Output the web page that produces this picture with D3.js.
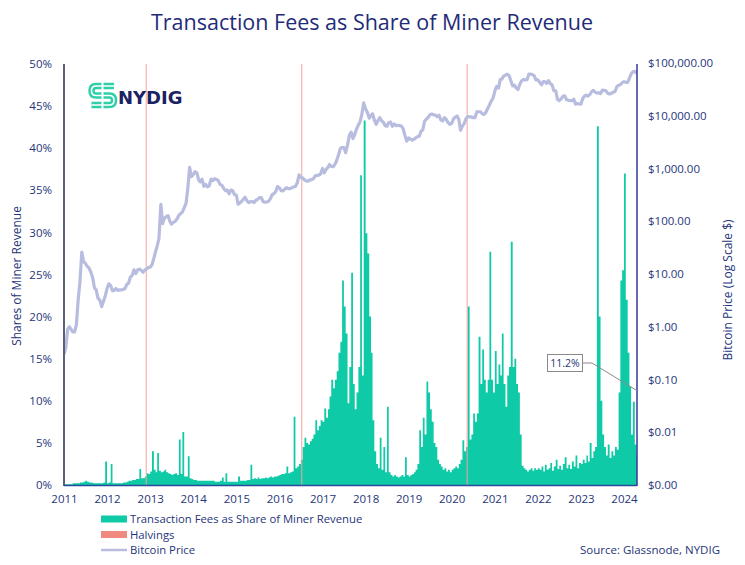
<!DOCTYPE html>
<html>
<head>
<meta charset="utf-8">
<script src="https://cdn.jsdelivr.net/npm/d3@7"></script>
<style>
  body { margin: 0; background: #fff; }
  svg { font-family: "Open Sans", sans-serif; }
</style>
</head>
<body>
<svg id="chart" width="745" height="565"></svg>
<script>
// Fee share of miner revenue (%), two readings per month (1st and 16th), Jan 2011 - Apr 2024
let feeShare = [
  0.1,0.1,0.1,0.1,0.1,0.2,0.2,0.2,0.2,0.3,0.3,0.4,0.5,0.4,0.3,0.3,0.2,0.2,0.2,0.2,0.2,0.2,0.3,2.8,   // 2011
  0.2,0.3,2.5,0.2,0.2,0.2,0.2,0.2,0.2,0.3,0.3,0.4,0.5,0.5,0.6,0.6,0.7,0.7,1.9,0.8,0.8,1.0,1.4,1.3,   // 2012
  1.6,4.0,1.8,1.5,3.8,1.7,1.5,1.6,1.8,1.5,1.4,1.3,1.2,1.3,1.4,1.2,5.4,1.3,6.3,1.0,1.0,3.4,0.8,0.7,   // 2013
  0.6,0.6,0.5,0.5,0.5,0.5,0.5,0.5,0.5,0.5,0.5,0.5,0.4,0.4,0.4,0.5,0.9,0.4,1.4,0.4,0.4,0.4,0.4,0.4,   // 2014
  0.4,1.0,0.5,0.5,0.5,0.5,0.6,0.6,2.4,0.7,0.8,0.7,0.9,0.7,0.8,0.8,0.9,0.8,0.9,1.0,0.9,1.0,1.0,1.1,   // 2015
  1.2,1.3,1.3,1.4,2.2,1.4,1.5,1.6,8.1,2.0,2.2,2.5,3.0,4.5,5.6,5.0,4.8,5.2,5.5,6.0,7.7,6.5,7.0,7.7,   // 2016
  7.5,9.1,8.0,9.0,10.5,12.5,11.5,12.5,13.5,15.7,17,24.3,21.2,18,9.7,14,25.2,12,9,11,14,36.8,13,43.3, // 2017
  29.9,27.5,20,15.7,7.7,4,2.5,2,5.6,1.8,4.5,1.5,9.3,1.5,1.2,1.0,1.2,1.0,0.9,1.0,1.2,1.0,3.3,1.2,     // 2018
  1.0,1.2,1.3,1.5,1.8,2.5,6.5,4.5,8.0,6,12.3,11,9,7.5,5,4.5,3,2.5,2.2,1.8,2.0,1.6,1.8,1.5,           // 2019
  1.8,2.0,2.2,2.0,2.5,3,5.3,4,4.5,21.2,5.4,6,8.5,7.5,8.5,17.6,12,16.1,12.5,11,12.5,27.7,12.5,11,     // 2020
  15.9,12,14.3,13,18,12,9.3,13,14,28.9,14,15,12,11,6,2.3,2.0,1.8,1.6,1.8,2.0,1.7,2.0,1.8,           // 2021
  2.0,1.8,2.2,1.6,2.4,1.8,2.0,2.6,1.7,2.2,3.0,1.9,2.3,1.8,2.5,3.3,2.0,2.4,1.9,2.8,2.2,3.5,2.0,2.6,   // 2022
  2.5,3.0,2.6,3.5,2.8,5.0,3.2,4,4.5,42.6,20,10,6,4.5,3.5,4.8,3.2,4.0,3.5,4.5,4.2,11,24.3,25.5,       // 2023
  37,22,15.7,11.7,6,9.9,4.8,3.6                                                                     // 2024
];

// Bitcoin price ($), same dates
let btcPrice = [
  0.3,0.4,0.9,1.0,0.9,0.8,0.8,1.1,3.2,7,26,17,16,14,13,11,8.5,5.5,5,3.5,3.2,2.4,3.0,3.8,
  5.3,6.5,6.0,4.8,4.9,5.3,4.9,5.0,5.0,5.1,5.3,6.3,6.7,8.7,9.4,12,10.2,11.9,12.4,11.8,10.8,11.8,12.5,13.3,
  13.5,15,20,27,34,47,210,90,115,122,128,100,88,95,100,110,130,140,150,180,220,430,1050,700,
  770,870,820,600,560,630,460,500,450,470,630,590,640,620,590,500,480,420,380,390,330,390,380,320,
  315,210,225,240,260,285,245,225,235,237,225,250,260,280,280,235,230,232,238,265,320,335,365,455,
  430,380,375,405,435,415,417,430,450,455,535,760,675,665,610,580,575,610,615,640,730,740,750,790,
  1000,830,970,1050,1190,1100,1080,1200,1420,1800,2400,2500,2500,2000,2800,4200,4900,3700,4400,5600,6700,7800,10900,17500,
  13500,11500,9000,10200,10900,8300,6900,8100,9200,8100,7500,6500,6350,7400,7600,6300,7000,6500,6600,6500,6400,5600,4200,3300,
  3800,3600,3450,3600,3800,4000,4100,5100,5400,7900,8600,9300,10500,10800,10400,10300,9600,10200,8300,8000,9200,8500,7400,6900,
  7200,8700,9400,9900,8600,5300,6400,7100,8800,9700,9500,9500,9200,9200,11800,11900,11900,10900,10600,11500,13700,16000,19000,21300,
  29400,36000,33500,49000,49500,56500,59000,61500,57800,46500,36700,38000,33500,31500,39800,45900,48800,47700,48200,61500,61300,60100,57200,47600,
  47700,43100,38500,44500,44400,41000,46300,40500,38500,29800,29800,20400,19300,20800,23300,23900,20100,19700,19300,19300,20500,16600,17100,16700,
  16600,21200,23700,24600,23600,25000,28500,30300,28100,27000,27200,26300,30600,30300,29700,26600,25800,26600,28000,28500,35400,37900,38700,42300,
  44200,43100,43100,51900,62000,68400,69700,63400
];

let halvings = ['2012-11-28', '2016-07-09', '2020-05-11'];
let yearTicks = [2011,2012,2013,2014,2015,2016,2017,2018,2019,2020,2021,2022,2023,2024];
let shareTicks = [0,5,10,15,20,25,30,35,40,45,50];
let priceTicks = [0.001,0.01,0.1,1,10,100,1000,10000,100000];
let latestShare = 11.2;

let navy = '#26357a';
let teal = '#0fcaa6';
let lavender = '#b8bde0';
let salmon = '#f2a39c';

// reading i -> date (1st or 16th of the month)
function readingDate(i) {
    return new Date(2011 + Math.floor(i / 24), Math.floor((i % 24) / 2), i % 2 ? 16 : 1);
}

let fees = feeShare.map((v, i) => ({ date: readingDate(i), value: v }));
// repeat last reading so the final step has a width
fees.push({ date: readingDate(feeShare.length), value: feeShare[feeShare.length - 1] });
let prices = btcPrice.map((v, i) => ({ date: readingDate(i), value: v }));

let svg = d3.select('#chart');

let x = d3.scaleTime()
    .domain([new Date(2011, 0, 1), new Date(2024, 3, 20)])
    .range([64, 637]);
let y = d3.scaleLinear().domain([0, 50]).range([485, 64]);
let yPrice = d3.scaleLog().domain([0.001, 100000]).range([485, 63]);

svg.append('clipPath').attr('id', 'plot')
    .append('rect').attr('x', 64).attr('y', 55).attr('width', 573).attr('height', 431);

// Title
svg.append('text')
    .attr('x', 372).attr('y', 30)
    .attr('text-anchor', 'middle')
    .attr('font-size', 21.5)
    .attr('fill', '#1f2b78')
    .text('Transaction Fees as Share of Miner Revenue');

// Fee bars (stepped so neighbouring bars touch)
let feeArea = d3.area()
    .curve(d3.curveStepAfter)
    .x(d => x(d.date))
    .y0(y(0))
    .y1(d => y(d.value));

svg.append('path')
    .datum(fees)
    .attr('clip-path', 'url(#plot)')
    .attr('d', feeArea)
    .attr('fill', teal);

// Halvings
svg.append('g')
    .selectAll('line')
    .data(halvings)
    .join('line')
    .attr('x1', d => x(new Date(d))).attr('x2', d => x(new Date(d)))
    .attr('y1', 64).attr('y2', 485)
    .attr('stroke', salmon)
    .attr('stroke-width', 1);

// Price line
let priceLine = d3.line()
    .x(d => x(d.date))
    .y(d => yPrice(d.value));

svg.append('path')
    .datum(prices)
    .attr('clip-path', 'url(#plot)')
    .attr('d', priceLine)
    .attr('fill', 'none')
    .attr('stroke', lavender)
    .attr('stroke-width', 3.2)
    .attr('stroke-linejoin', 'round');

// Axes lines
svg.append('line').attr('x1', 64).attr('x2', 64).attr('y1', 64).attr('y2', 486)
    .attr('stroke', '#5b6178').attr('stroke-width', 2);
svg.append('line').attr('x1', 637).attr('x2', 637).attr('y1', 64).attr('y2', 486)
    .attr('stroke', '#34399a').attr('stroke-width', 1.5);
svg.append('line').attr('x1', 64).attr('x2', 637).attr('y1', 485.5).attr('y2', 485.5)
    .attr('stroke', '#2a4a9a').attr('stroke-width', 1.5);

// Tick labels
let leftAxis = svg.append('g')
    .attr('transform', 'translate(55,0)')
    .call(d3.axisLeft(y).tickValues(shareTicks).tickSize(0).tickFormat(d => d + '%'));
let rightAxis = svg.append('g')
    .attr('transform', 'translate(645,0)')
    .call(d3.axisRight(yPrice).tickValues(priceTicks).tickSize(0).tickFormat(d3.format('$,.2f')));
let bottomAxis = svg.append('g')
    .attr('transform', 'translate(0,492)')
    .call(d3.axisBottom(x).tickValues(yearTicks.map(v => new Date(v, 0, 1))).tickSize(0).tickFormat(d3.timeFormat('%Y')));

[leftAxis, rightAxis, bottomAxis].forEach(g => {
    g.select('.domain').remove();
    g.selectAll('text')
        .attr('font-family', '"Open Sans", sans-serif')
        .attr('font-size', 11.5)
        .attr('fill', navy);
});

// Axis titles
svg.append('text')
    .attr('transform', 'translate(21,276) rotate(-90)')
    .attr('text-anchor', 'middle')
    .attr('font-size', 12)
    .attr('fill', navy)
    .text('Shares of Miner Revenue');
svg.append('text')
    .attr('transform', 'translate(732,290) rotate(-90)')
    .attr('text-anchor', 'middle')
    .attr('font-size', 12)
    .attr('fill', navy)
    .text('Bitcoin Price (Log Scale $)');

// Latest value callout
let calloutX = 565, calloutY = 363;
svg.append('polyline')
    .attr('points', [[583, calloutY], [592, calloutY], [637, y(latestShare)]].join(' '))
    .attr('fill', 'none')
    .attr('stroke', '#8a8a8a')
    .attr('stroke-width', 1);
svg.append('rect')
    .attr('x', 547.5).attr('y', 354.5).attr('width', 35).attr('height', 17)
    .attr('fill', '#fff').attr('stroke', '#8a8a8a');
svg.append('text')
    .attr('x', calloutX).attr('y', calloutY + 4)
    .attr('text-anchor', 'middle')
    .attr('font-size', 10.5)
    .attr('fill', navy)
    .text(latestShare + '%');

// Logo
let logo = svg.append('g');
let sPath = 'M114,86 H96 Q91.5,86 91.5,90.75 Q91.5,95.5 96,95.5 H109.5 Q114,95.5 114,100.25 Q114,105 109.5,105 H91.5';
logo.append('path').attr('d', sPath).attr('fill', 'none').attr('stroke', '#2fd0a8').attr('stroke-width', 6.5);
logo.append('path').attr('d', sPath).attr('fill', 'none').attr('stroke', '#fff').attr('stroke-width', 1.6);
logo.append('rect').attr('x', 101.5).attr('y', 82).attr('width', 2).attr('height', 27).attr('fill', '#fff');
logo.append('text')
    .attr('x', 118).attr('y', 104)
    .attr('font-family', '"DejaVu Sans", sans-serif')
    .attr('font-weight', 'bold')
    .attr('font-size', 18)
    .attr('fill', '#1c2162')
    .text('NYDIG');

// Legend
let legend = svg.append('g').attr('font-size', 11.3).attr('fill', navy);
legend.append('rect').attr('x', 101).attr('y', 515.5).attr('width', 26).attr('height', 7).attr('fill', teal);
legend.append('rect').attr('x', 101).attr('y', 531).attr('width', 26).attr('height', 7).attr('fill', '#f08a80');
legend.append('line').attr('x1', 101).attr('x2', 127).attr('y1', 550).attr('y2', 550)
    .attr('stroke', lavender).attr('stroke-width', 2.5);
legend.append('text').attr('x', 130).attr('y', 523).text('Transaction Fees as Share of Miner Revenue');
legend.append('text').attr('x', 130).attr('y', 538.5).text('Halvings');
legend.append('text').attr('x', 130).attr('y', 554).text('Bitcoin Price');

svg.append('text')
    .attr('x', 720).attr('y', 554)
    .attr('text-anchor', 'end')
    .attr('font-size', 11.5)
    .attr('fill', navy)
    .text('Source: Glassnode, NYDIG');
</script>
</body>
</html>
